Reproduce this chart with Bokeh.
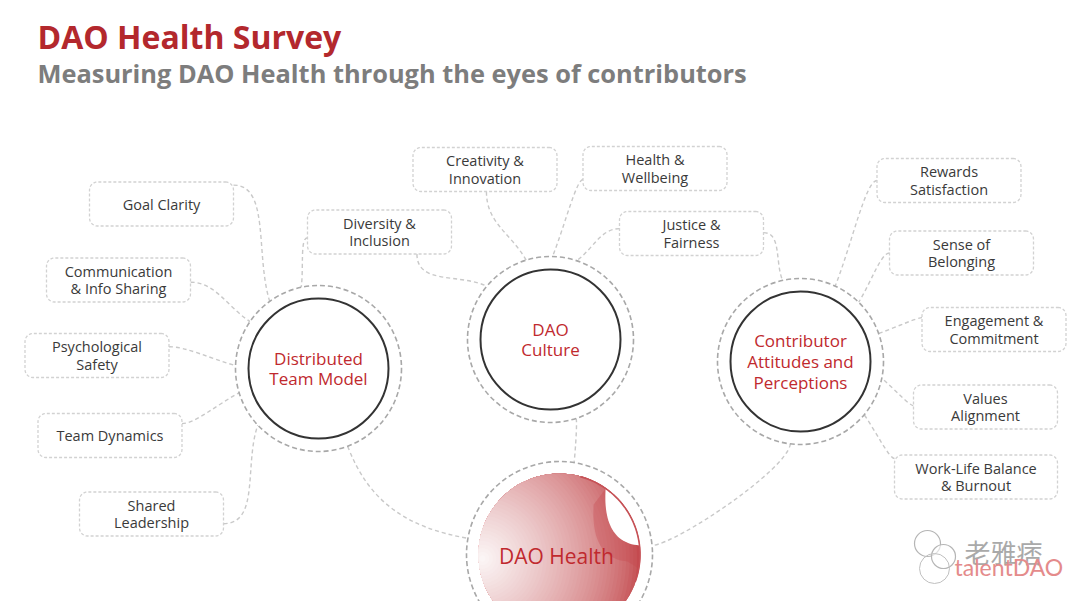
import numpy as np
from bokeh.plotting import figure
from bokeh.models import Range1d
from bokeh.core.properties import value
from bokeh.embed import file_html
from bokeh.resources import INLINE

# ---------------- content ----------------
title = "DAO Health Survey"
subtitle = "Measuring DAO Health through the eyes of contributors"
core_label = "DAO Health"
hub_labels = ["Distributed\nTeam Model", "DAO\nCulture", "Contributor\nAttitudes and\nPerceptions"]
factor_labels = ["Goal Clarity", "Communication\n& Info Sharing", "Psychological\nSafety",
                 "Team Dynamics", "Shared\nLeadership", "Diversity &\nInclusion",
                 "Creativity &\nInnovation", "Health &\nWellbeing", "Justice &\nFairness",
                 "Rewards\nSatisfaction", "Sense of\nBelonging", "Engagement &\nCommitment",
                 "Values\nAlignment", "Work-Life Balance\n& Burnout"]
# which factor feeds which hub
link_factor = [0, 1, 2, 3, 4, 5, 5, 6, 7, 8, 8, 9, 10, 11, 12, 13]
link_hub = [0, 0, 0, 0, 0, 0, 1, 1, 1, 1, 2, 2, 2, 2, 2, 2]
watermark_cn = "老雅痞"
watermark_brand = "talentDAO"

# ---------------- layout (screen pixels) ----------------
hub_x = [318, 550, 800]
hub_y = [368, 339, 361]
hub_r, hub_ring = 70, 83
core_x, core_y, core_r, core_ring = 559, 554, 81, 93

box_x = [161, 118, 96.5, 109.5, 151, 379, 484.5, 654.5, 691, 948.5, 961, 993.5, 985, 975.5]
box_y = [203.5, 279.5, 355, 435, 513.5, 231.5, 169, 168, 233, 180, 252.5, 329, 406.5, 476.5]
box_w = [144] * 13 + [163]
box_h = 44

link_fx = [1, 1, 1, 1, 1, 0, 0.76, 0.51, 0, 0, 1, 0, 0, 0, 0, 0]
link_fy = [0.07, 0.55, 0.3, 0.23, 0.72, 0.63, 1, 1, 0.75, 0.39, 0.48, 0.5, 0.5, 0.23, 0.47, 0.08]
link_angle = [-126, -145.6, 182, 163, 137, -102, -140, -107, -88.6, -71.6,
              -102.5, -65.3, -45.5, -19.7, 11.6, 39.9]
link_bend = [0.3, 0.35, 0.25, 0.2, 0.35, 0.15, 0.4, 0.4, 0.08, 0.35, 0.35, 0.1, 0.15, 0.1, 0.1, 0.1]

core_start_angle = [69.4, 72, 97]
core_end_angle = [-170, -81, -5.5]
core_bend = [0.4, 0.1, 0.15]

RED = "#b3282d"
HUB_RED = "#c0292e"
LINK = "#c9c9c9"
W, H = 1080, 601

p = figure(width=W, height=H, x_range=Range1d(0, W), y_range=Range1d(H, 0),
           output_backend="svg", toolbar_location=None, x_axis_type=None, y_axis_type=None,
           min_border=0, outline_line_color=None, background_fill_color="white",
           border_fill_color="white")
p.grid.visible = False

# ---------------- connectors ----------------
x0s, y0s, x1s, y1s, cx0s, cy0s, cx1s, cy1s = ([] for _ in range(8))
for i, (f, h) in enumerate(zip(link_factor, link_hub)):
    bx = box_x[f] - box_w[f] / 2 + link_fx[i] * box_w[f]
    by = box_y[f] - box_h / 2 + link_fy[i] * box_h
    if link_fy[i] == 1:
        d = (0, 1)
    elif link_fx[i] == 1:
        d = (1, 0)
    else:
        d = (-1, 0)
    a = np.radians(link_angle[i])
    ex = hub_x[h] + hub_ring * np.cos(a)
    ey = hub_y[h] + hub_ring * np.sin(a)
    dist = np.hypot(ex - bx, ey - by)
    k = link_bend[i] * dist
    x0s.append(bx); y0s.append(by); x1s.append(ex); y1s.append(ey)
    cx0s.append(bx + d[0] * k); cy0s.append(by + d[1] * k)
    cx1s.append(ex + 0.4 * (bx - ex)); cy1s.append(ey + 0.4 * (by - ey))

for h in range(3):
    a0 = np.radians(core_start_angle[h]); a1 = np.radians(core_end_angle[h])
    sx = hub_x[h] + hub_ring * np.cos(a0); sy = hub_y[h] + hub_ring * np.sin(a0)
    ex = core_x + core_ring * np.cos(a1); ey = core_y + core_ring * np.sin(a1)
    k = core_bend[h] * np.hypot(ex - sx, ey - sy)
    x0s.append(sx); y0s.append(sy); x1s.append(ex); y1s.append(ey)
    cx0s.append(sx + np.cos(a0) * k); cy0s.append(sy + np.sin(a0) * k)
    cx1s.append(ex + np.cos(a1) * k); cy1s.append(ey + np.sin(a1) * k)

p.bezier(x0=x0s, y0=y0s, x1=x1s, y1=y1s, cx0=cx0s, cy0=cy0s, cx1=cx1s, cy1=cy1s,
         line_color=LINK, line_width=1.4, line_dash="4 3")

# ---------------- factor boxes ----------------
def rrect(cx, cy, w, h, r=8, n=8):
    xs, ys = [], []
    corners = [(cx + w / 2 - r, cy - h / 2 + r, -90, 0), (cx + w / 2 - r, cy + h / 2 - r, 0, 90),
               (cx - w / 2 + r, cy + h / 2 - r, 90, 180), (cx - w / 2 + r, cy - h / 2 + r, 180, 270)]
    for (ox, oy, a0, a1) in corners:
        t = np.radians(np.linspace(a0, a1, n))
        xs.extend(ox + r * np.cos(t)); ys.extend(oy + r * np.sin(t))
    xs.append(xs[0]); ys.append(ys[0])
    return xs, ys

bxs, bys = [], []
for f in range(len(factor_labels)):
    xs, ys = rrect(box_x[f], box_y[f], box_w[f], box_h)
    bxs.append(xs); bys.append(ys)
p.patches(bxs, bys, fill_color="white", line_color="#d2d2d2", line_width=1.3, line_dash="3 2")
p.text(x=box_x, y=box_y, text=factor_labels, text_font=value("Open Sans"), text_font_size="14.5px",
       text_color="#3a3a3a", text_align="center", text_baseline="middle", text_line_height=0.92)

# ---------------- hubs ----------------
p.circle(x=hub_x, y=hub_y, radius=hub_ring, fill_color="white", line_color="#a8a8a8",
         line_width=1.6, line_dash="5 3")
p.circle(x=hub_x, y=hub_y, radius=hub_r, fill_color="white", line_color="#333333", line_width=2)
p.text(x=hub_x, y=hub_y, text=hub_labels, text_font=value("Open Sans"), text_font_size="17px",
       text_color=HUB_RED, text_align="center", text_baseline="middle", text_line_height=0.9)

# ---------------- core ----------------
p.circle(x=[core_x], y=[core_y], radius=core_ring, fill_color="white", line_color="#a8a8a8",
         line_width=1.6, line_dash="5 3")
# radial shading seen from a focus near the left rim, clipped to the disc
fx, fy = core_x - core_r + 4, core_y + 4
th = np.linspace(-np.pi, np.pi, 181)
ux, uy = np.cos(th), np.sin(th)
ox, oy = fx - core_x, fy - core_y
bdot = ox * ux + oy * uy
L = -bdot + np.sqrt(bdot ** 2 - (ox ** 2 + oy ** 2 - core_r ** 2))
c_dark = np.array([196, 76, 80]); c_light = np.array([251, 245, 245])
rho_max = L.max()
N = 44
gx, gy, gc = [], [], []
for j in range(N):
    t = j / (N - 1)
    rho = rho_max * (1 - t) + 3 * t
    rr = np.minimum(L, rho)
    gx.append(list(fx + rr * ux)); gy.append(list(fy + rr * uy))
    col = c_dark + (c_light - c_dark) * t ** 0.7
    gc.append("#%02x%02x%02x" % tuple(int(v) for v in col))
p.patches(gx, gy, fill_color=gc, line_color=None)

# page curl: shadow, white flap and rim
arc = np.radians(np.linspace(-55, -6.5, 30))
cx_ = list(core_x + (core_r - 0.5) * np.cos(arc)); cy_ = list(core_y + (core_r - 0.5) * np.sin(arc))
P0 = np.array([cx_[-1], cy_[-1]]); P3 = np.array([cx_[0], cy_[0]])
P1 = np.array([core_x + 53, core_y - 11]); P2 = np.array([core_x + 44, core_y - 34])
tt = np.linspace(0, 1, 30)[:, None]
bez = (1 - tt) ** 3 * P0 + 3 * (1 - tt) ** 2 * tt * P1 + 3 * (1 - tt) * tt ** 2 * P2 + tt ** 3 * P3
flap_x = cx_ + list(bez[:, 0]); flap_y = cy_ + list(bez[:, 1])
arc2 = np.radians(np.linspace(-6.5, 10, 12))
sh_x = list(bez[::-1, 0]) + list(core_x + (core_r - 0.5) * np.cos(arc2)) + list(bez[:, 0] - 14)[::-1][::-1]
sh_y = list(bez[::-1, 1]) + list(core_y + (core_r - 0.5) * np.sin(arc2)) + list(bez[:, 1] + 14)
# build the shadow band between the flap edge and a copy shifted down-left
band_x = list(bez[::-1, 0]) + list(core_x + (core_r - 0.5) * np.cos(arc2)) + list(bez[:, 0] - 12)
band_y = list(bez[::-1, 1]) + list(core_y + (core_r - 0.5) * np.sin(arc2)) + list(bez[:, 1] + 16)
p.patch(band_x, band_y, fill_color="#c5474c", fill_alpha=0.35, line_color=None)
p.patch(flap_x, flap_y, fill_color="white", line_color=None)
arc3 = np.radians(np.linspace(-75, 20, 40))
p.line(core_x + (core_r - 0.5) * np.cos(arc3), core_y + (core_r - 0.5) * np.sin(arc3),
       line_color="#c65156", line_width=1.6)
p.text(x=[core_x - 3], y=[core_y + 1], text=[core_label], text_font=value("Open Sans"),
       text_font_size="21px", text_color=HUB_RED, text_align="center", text_baseline="middle")

# ---------------- titles ----------------
p.text(x=[37], y=[35.5], text=[title], text_font=value("Open Sans"), text_font_style="bold",
       text_font_size="32px", text_color=RED, text_baseline="middle")
p.text(x=[37], y=[72], text=[subtitle], text_font=value("Open Sans"), text_font_style="bold",
       text_font_size="25.4px", text_color="#7d7d7d", text_baseline="middle")

# ---------------- watermark ----------------
p.circle(x=[927, 943], y=[543, 556], radius=[13, 12], fill_color="white", fill_alpha=0.6,
         line_color="#b5b5b5", line_width=1.2)
p.circle(x=[934], y=[568], radius=[15], fill_color=None, line_color="#c0c0c0", line_width=1)
p.text(x=[964], y=[551], text=[watermark_cn], text_font=value("Noto Sans CJK SC"), text_font_size="26px",
       text_color="#a9a9a9", text_baseline="middle")
p.text(x=[954], y=[566], text=[watermark_brand], text_font=value("Lato"), text_font_size="23px",
       text_color="#e48b8b", text_baseline="middle")

open("out.html", "w").write(file_html(p, INLINE))
